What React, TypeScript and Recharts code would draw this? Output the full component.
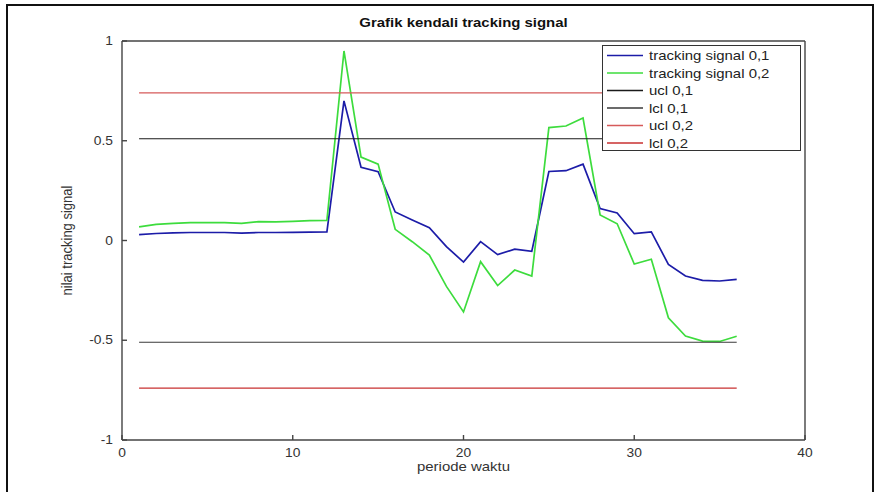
import React from 'react';
import { LineChart, Line, XAxis, YAxis, Legend, Label } from 'recharts';

// periode waktu 1..36
const periods = [
  1, 2, 3, 4, 5, 6, 7, 8, 9, 10, 11, 12, 13, 14, 15, 16, 17, 18,
  19, 20, 21, 22, 23, 24, 25, 26, 27, 28, 29, 30, 31, 32, 33, 34, 35, 36,
];

// tracking signal, alpha 0,1
const ts01 = [
  0.029, 0.035, 0.038, 0.04, 0.04, 0.04, 0.037, 0.04, 0.04, 0.041, 0.042, 0.043,
  0.7, 0.367, 0.345, 0.143, 0.103, 0.064, -0.031, -0.108, -0.006, -0.071, -0.043, -0.054,
  0.346, 0.35, 0.383, 0.16, 0.138, 0.034, 0.043, -0.12, -0.178, -0.2, -0.203, -0.195,
];

// tracking signal, alpha 0,2
const ts02 = [
  0.068, 0.081, 0.086, 0.09, 0.09, 0.09, 0.086, 0.095, 0.093, 0.096, 0.1, 0.101,
  0.95, 0.418, 0.383, 0.056, -0.006, -0.073, -0.23, -0.358, -0.106, -0.226, -0.148, -0.178,
  0.566, 0.574, 0.614, 0.128, 0.084, -0.118, -0.094, -0.387, -0.479, -0.504, -0.506, -0.48,
];

// control limits
const limits01 = [0.51, -0.51];
const limits02 = [0.74, -0.74];

const xTicks = [0, 10, 20, 30, 40];
const yTicks = [-1, -0.5, 0, 0.5, 1];

const rows = periods.map((t, i) => ({
  t,
  ts01: ts01[i],
  ts02: ts02[i],
  ucl01: limits01[0],
  lcl01: limits01[1],
  ucl02: limits02[0],
  lcl02: limits02[1],
}));

const series = [
  { key: 'ts01', name: 'tracking signal 0,1', color: '#1c1ca8', width: 1.7 },
  { key: 'ts02', name: 'tracking signal 0,2', color: '#3ddc3d', width: 1.7 },
  { key: 'ucl01', name: 'ucl 0,1', color: '#1a1a1a', width: 1.2 },
  { key: 'lcl01', name: 'lcl 0,1', color: '#3a3a3a', width: 1.2 },
  { key: 'ucl02', name: 'ucl 0,2', color: '#d65a5a', width: 1.2 },
  { key: 'lcl02', name: 'lcl 0,2', color: '#c83030', width: 1.2 },
];

const FONT = '"Liberation Sans", Arial, Helvetica, sans-serif';
const STRETCH = 1.15;
const AXIS = '#444';

function Stretched({ x, y, anchor = 'middle', size = 12, bold = false, rotate = false, dy, fill = '#333', children }: any) {
  const tf = rotate
    ? `translate(${x},${y}) rotate(-90) scale(1,${STRETCH})`
    : `translate(${x},${y}) scale(${STRETCH},1)`;
  return (
    <text
      transform={tf}
      x={0}
      y={0}
      dy={dy}
      textAnchor={anchor}
      fontFamily={FONT}
      fontSize={size}
      fontWeight={bold ? 'bold' : 'normal'}
      fill={fill}
    >
      {children}
    </text>
  );
}

const XTick = ({ x, y, payload }: any) => (
  <Stretched x={x} y={y} anchor="middle" dy="0.71em">{payload.value}</Stretched>
);

const YTick = ({ x, y, payload }: any) => (
  <Stretched x={x} y={y} anchor="end" dy="0.35em">{payload.value}</Stretched>
);

const LegendBox = ({ payload }: any) => {
  const order = series.map((s) => s.name);
  const items = [...(payload || [])].sort((a: any, b: any) => order.indexOf(a.value) - order.indexOf(b.value));
  return (
    <div
      style={{
        width: 199,
        height: 106,
        boxSizing: 'border-box',
        border: '1.4px solid #333',
        background: '#fff',
      }}
    >
      <svg width={196} height={103} style={{ display: 'block', overflow: 'visible' }}>
        {items.map((it: any, i: number) => {
          const cy = 9.5 + i * 17.5;
          return (
            <g key={it.value}>
              <line x1={4} x2={40} y1={cy} y2={cy} stroke={it.color} strokeWidth={1.6} />
              <Stretched x={46} y={cy} anchor="start" size={13} dy="0.35em" fill="#222">
                {it.value}
              </Stretched>
            </g>
          );
        })}
      </svg>
    </div>
  );
};

export default function App() {
  return (
    <div style={{ position: 'absolute', left: 0, top: 0, width: 877, height: 492, background: '#fff' }}>
      <div
        style={{
          position: 'absolute',
          left: 6,
          top: 4,
          width: 864,
          height: 500,
          borderLeft: '2px solid #111',
          borderTop: '2px solid #111',
          borderRight: '2px solid #111',
        }}
      />
      <LineChart width={877} height={492} data={rows} margin={{ top: 40, right: 71, bottom: 12, left: 60 }}>
        <XAxis
          dataKey="t"
          type="number"
          domain={[0, 40]}
          ticks={xTicks}
          height={40}
          tickSize={-5}
          tickMargin={13}
          tick={XTick}
          stroke={AXIS}
          strokeWidth={1.4}
        >
          <Label
            content={({ viewBox }: any) => (
              <Stretched x={viewBox.x + viewBox.width / 2} y={viewBox.y + 31} size={13}>
                periode waktu
              </Stretched>
            )}
          />
        </XAxis>
        <XAxis
          xAxisId="top"
          orientation="top"
          type="number"
          domain={[0, 40]}
          ticks={xTicks}
          height={1}
          tickSize={-5}
          tick={false}
          stroke={AXIS}
          strokeWidth={1.4}
        >
          <Label
            content={({ viewBox }: any) => (
              <Stretched x={viewBox.x + viewBox.width / 2} y={viewBox.y - 13} size={13} bold fill="#111">
                Grafik kendali tracking signal
              </Stretched>
            )}
          />
        </XAxis>
        <YAxis
          type="number"
          domain={[-1, 1]}
          ticks={yTicks}
          width={62}
          tickSize={-5}
          tickMargin={14}
          tick={YTick}
          stroke={AXIS}
          strokeWidth={1.4}
        >
          <Label
            content={({ viewBox }: any) => (
              <Stretched x={viewBox.x + 7} y={viewBox.y + viewBox.height / 2} size={13} rotate dy="0.35em">
                nilai tracking signal
              </Stretched>
            )}
          />
        </YAxis>
        <YAxis
          yAxisId="right"
          orientation="right"
          type="number"
          domain={[-1, 1]}
          ticks={yTicks}
          width={1}
          tickSize={-5}
          tick={false}
          stroke={AXIS}
          strokeWidth={1.4}
        />
        {series.map((s) => (
          <Line
            key={s.key}
            dataKey={s.key}
            name={s.name}
            type="linear"
            stroke={s.color}
            strokeWidth={s.width}
            dot={false}
            activeDot={false}
            isAnimationActive={false}
          />
        ))}
        <Legend
          layout="vertical"
          align="center"
          verticalAlign="middle"
          content={LegendBox}
          wrapperStyle={{ left: 602, top: 45, width: 199, height: 106 }}
        />
      </LineChart>
    </div>
  );
}
